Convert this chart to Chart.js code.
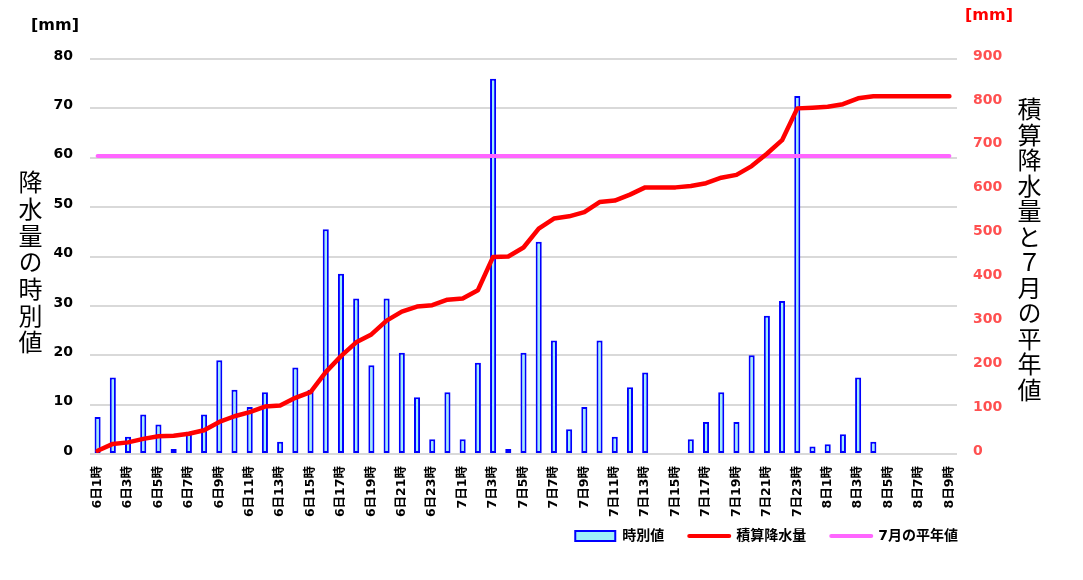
<!DOCTYPE html>
<html lang="ja">
<head>
  <meta charset="UTF-8">
  <title>降水量の時別値と積算降水量</title>
  <script src="https://cdn.jsdelivr.net/npm/chart.js"></script>
  <style>
    body {
      margin: 0;
      padding: 0;
      background: #ffffff;
      font-family: "DejaVu Sans", "Noto Sans CJK JP", sans-serif;
    }

    .wrap {
      position: relative;
      width: 1083px;
      height: 580px;
    }

    #rainChart {
      display: block;
    }

    .unit {
      position: absolute;
      font-size: 16px;
      font-weight: bold;
      line-height: 20px;
    }

    .vtitle {
      position: absolute;
      writing-mode: vertical-rl;
      font-family: "Noto Sans CJK JP", sans-serif;
      font-size: 24px;
      line-height: 24px;
      color: #000;
    }
  </style>
</head>
<body>
  <div class="wrap">
    <canvas id="rainChart" width="1083" height="580"></canvas>
    <div class="unit" style="left:31px; top:15px; color:#000;">[mm]</div>
    <div class="unit" style="left:965px; top:5px; color:#ff0000;">[mm]</div>
    <div class="vtitle" style="left:18px; top:170px; letter-spacing:2.7px;">降水量の時別値</div>
    <div class="vtitle" style="left:1017px; top:97px; letter-spacing:1.5px;">積算降水量と７月の平年値</div>
  </div>

  <script>
    // categories: 6日1時 .. 8日9時 (hourly)
    const hours = [
      '6日1時', '6日2時', '6日3時', '6日4時', '6日5時', '6日6時', '6日7時', '6日8時',
      '6日9時', '6日10時', '6日11時', '6日12時', '6日13時', '6日14時', '6日15時', '6日16時',
      '6日17時', '6日18時', '6日19時', '6日20時', '6日21時', '6日22時', '6日23時', '6日24時',
      '7日1時', '7日2時', '7日3時', '7日4時', '7日5時', '7日6時', '7日7時', '7日8時',
      '7日9時', '7日10時', '7日11時', '7日12時', '7日13時', '7日14時', '7日15時', '7日16時',
      '7日17時', '7日18時', '7日19時', '7日20時', '7日21時', '7日22時', '7日23時', '7日24時',
      '8日1時', '8日2時', '8日3時', '8日4時', '8日5時', '8日6時', '8日7時', '8日8時', '8日9時'
    ];

    // hourly precipitation [mm] (left axis)
    const hourly = [
      7.5, 15.5, 3.5, 8, 6, 1, 4.5, 8,
      19, 13, 9.5, 12.5, 2.5, 17.5, 13, 45.5,
      36.5, 31.5, 18, 31.5, 20.5, 11.5, 3, 12.5,
      3, 18.5, 76, 1, 20.5, 43, 23, 5,
      9.5, 23, 3.5, 13.5, 16.5, 0, 0, 3,
      6.5, 12.5, 6.5, 20, 28, 31, 72.5, 1.5,
      2, 4, 15.5, 2.5, 0, 0, 0, 0, 0
    ];

    // accumulated precipitation [mm] (right axis)
    const accumulated = [
      7.5, 23, 26.5, 34.5, 40.5, 41.5, 46, 54,
      73, 86, 95.5, 108, 110.5, 128, 141, 186.5,
      223, 254.5, 272.5, 304, 324.5, 336, 339, 351.5,
      354.5, 373, 449, 450, 470.5, 513.5, 536.5, 541.5,
      551, 574, 577.5, 591, 607.5, 607.5, 607.5, 610.5,
      617, 629.5, 636, 656, 684, 715, 787.5, 789,
      791, 797, 810.5, 815, 815, 815, 815, 815, 815
    ];

    // July normal [mm]
    const julyNormal = 679;

    const leftTicks = { min: 0, max: 80, step: 10 };
    const rightTicks = { min: 0, max: 900, step: 100 };

    Chart.defaults.font.family = '"DejaVu Sans", "Noto Sans CJK JP", sans-serif';

    // put the legend where the original has it (right-aligned under the plot)
    const legendSpot = {
      id: 'legendSpot',
      afterLayout(chart) {
        const lg = chart.legend;
        if (!lg) return;
        lg.right = 983;
        lg.top = 504;
      }
    };

    const chart = new Chart(document.getElementById('rainChart'), {
      type: 'bar',
      data: {
        labels: hours,
        datasets: [
          {
            type: 'bar',
            label: '時別値',
            data: hourly,
            yAxisID: 'y',
            backgroundColor: '#9eeff9',
            borderColor: '#0000ff',
            borderWidth: 2,
            borderSkipped: false,
            categoryPercentage: 1,
            barPercentage: 0.4,
            order: 3
          },
          {
            type: 'line',
            label: '積算降水量',
            data: accumulated,
            yAxisID: 'y2',
            borderColor: '#ff0000',
            backgroundColor: '#ff0000',
            borderWidth: 4.5,
            borderJoinStyle: 'round',
            borderCapStyle: 'round',
            pointRadius: 0,
            tension: 0,
            order: 1
          },
          {
            type: 'line',
            label: '7月の平年値',
            data: [
              { x: hours[0], y: julyNormal },
              { x: hours[hours.length - 1], y: julyNormal }
            ],
            yAxisID: 'y2',
            borderColor: '#ff66ff',
            backgroundColor: '#ff66ff',
            borderWidth: 4,
            borderCapStyle: 'round',
            pointRadius: 0,
            order: 2
          }
        ]
      },
      options: {
        responsive: false,
        animation: false,
        layout: {
          padding: { top: 59, left: 0, right: 0, bottom: 0 }
        },
        plugins: {
          tooltip: { enabled: false },
          legend: {
            position: 'bottom',
            align: 'end',
            labels: {
              color: '#000',
              font: { size: 14, weight: 'bold' },
              padding: 25,
              usePointStyle: true,
              pointStyleWidth: 40,
              boxHeight: 10,
              generateLabels(c) {
                return c.data.datasets.map((ds, i) => ({
                  text: ds.label,
                  datasetIndex: i,
                  fillStyle: ds.backgroundColor,
                  strokeStyle: ds.borderColor,
                  lineWidth: ds.type === 'bar' ? 2 : 4,
                  lineCap: 'round',
                  pointStyle: ds.type === 'bar' ? 'rect' : 'line',
                  fontColor: '#000'
                }));
              }
            }
          }
        },
        scales: {
          x: {
            grid: { display: false, drawTicks: false },
            border: { display: false },
            ticks: {
              autoSkip: false,
              minRotation: 90,
              maxRotation: 90,
              padding: 12,
              color: '#000',
              font: { size: 12.5, weight: 'bold' },
              callback(val, idx) {
                return idx % 2 === 0 ? hours[idx] : '';
              }
            },
            afterFit(scale) { scale.height = 77; }
          },
          y: {
            position: 'left',
            min: leftTicks.min,
            max: leftTicks.max,
            grid: { color: '#d9d9d9', lineWidth: 2, drawTicks: false },
            border: { display: false },
            ticks: {
              stepSize: leftTicks.step,
              padding: 17,
              labelOffset: -3,
              color: '#000',
              font: { size: 14, weight: 'bold' }
            },
            afterFit(scale) { scale.width = 90; }
          },
          y2: {
            position: 'right',
            min: rightTicks.min,
            max: rightTicks.max,
            grid: { display: false, drawTicks: false },
            border: { display: false },
            ticks: {
              stepSize: rightTicks.step,
              padding: 16,
              labelOffset: -3,
              color: '#ff5050',
              font: { size: 14, weight: 'bold' }
            },
            afterFit(scale) { scale.width = 126; }
          }
        }
      },
      plugins: [legendSpot]
    });
  </script>
</body>
</html>
